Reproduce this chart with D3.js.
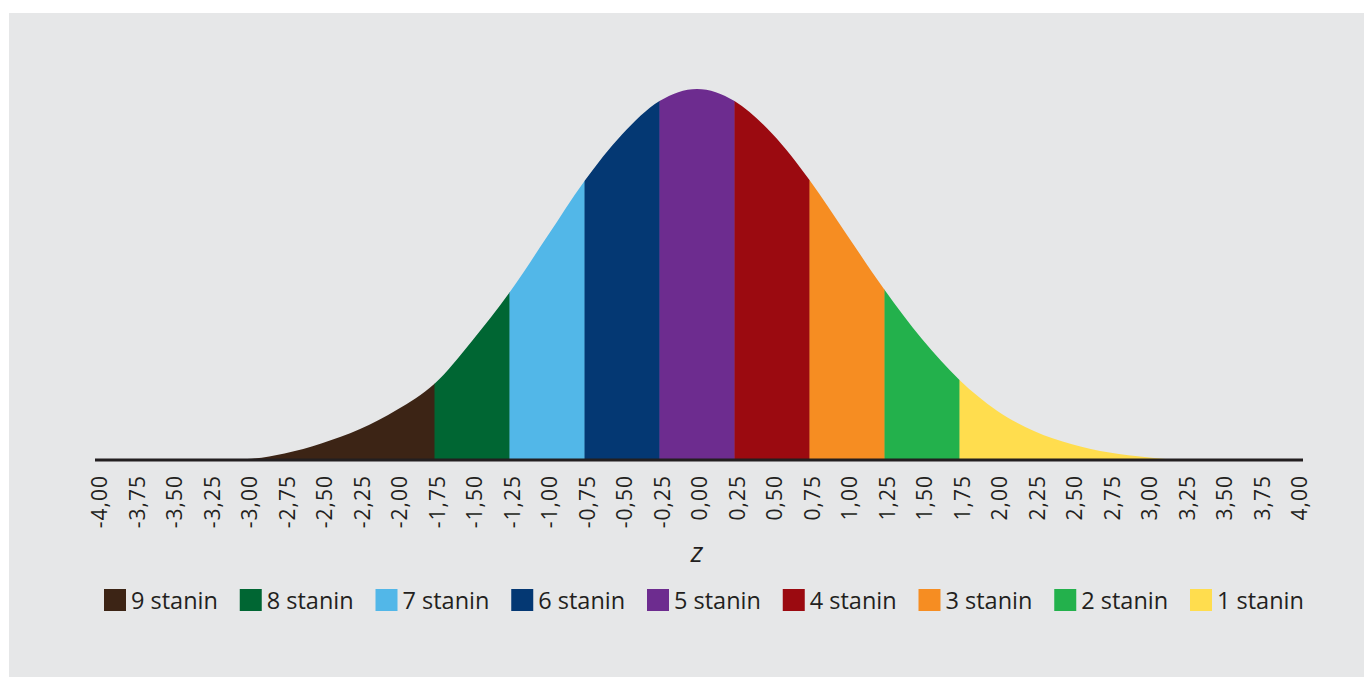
<!DOCTYPE html>
<html>
<head>
<meta charset="utf-8">
<script src="https://cdn.jsdelivr.net/npm/d3@7/dist/d3.min.js"></script>
<style>
  html, body { margin: 0; padding: 0; background: #ffffff; }
  svg { display: block; }
  text { font-family: "Open Sans", "Noto Sans", sans-serif; fill: #231f20; }
</style>
</head>
<body>
<svg id="chart" width="1364" height="677"></svg>
<script>
// ---- data ----
const zValues = [-4.00,-3.75,-3.50,-3.25,-3.00,-2.75,-2.50,-2.25,-2.00,-1.75,-1.50,-1.25,-1.00,-0.75,-0.50,-0.25,
                 0.00,0.25,0.50,0.75,1.00,1.25,1.50,1.75,2.00,2.25,2.50,2.75,3.00,3.25,3.50,3.75,4.00];
const density = [0,0,0,0,0.001,0.007,0.018,0.033,0.054,0.082,0.128,0.180,0.240,0.300,0.350,0.386,
                 0.399,0.386,0.351,0.301,0.242,0.183,0.130,0.086,0.053,0.031,0.017,0.008,0.003,0,0,0,0];
const tickLabels = ["-4,00","-3,75","-3,50","-3,25","-3,00","-2,75","-2,50","-2,25","-2,00","-1,75","-1,50","-1,25","-1,00","-0,75","-0,50","-0,25",
                    "0,00","0,25","0,50","0,75","1,00","1,25","1,50","1,75","2,00","2,25","2,50","2,75","3,00","3,25","3,50","3,75","4,00"];
const stanins = ["9 stanin","8 stanin","7 stanin","6 stanin","5 stanin","4 stanin","3 stanin","2 stanin","1 stanin"];
const staninBounds = [-4,-1.75,-1.25,-0.75,-0.25,0.25,0.75,1.25,1.75,4];
const staninColors = ["#3c2415","#006633","#52b7e8","#043873","#6d2c8f","#9b0a10","#f68d22","#23b14c","#ffdd4e"];
const axisTitle = "z";

// ---- layout ----
const svg = d3.select("#chart");
svg.append("rect").attr("x", 9).attr("y", 13).attr("width", 1364 - 9).attr("height", 677 - 13).attr("fill", "#e6e7e8");

const x = d3.scaleLinear().domain([-4, 4]).range([97, 1297]);
const y = d3.scaleLinear().domain([0, 0.4]).range([460, 88]);

const pts = zValues.map((z, i) => ({z, d: density[i]}));
const area = d3.area().x(p => x(p.z)).y0(y(0)).y1(p => y(p.d)).curve(d3.curveMonotoneX);

const defs = svg.append("defs");
stanins.forEach((s, i) => {
  const x0 = x(staninBounds[i]), x1 = x(staninBounds[i + 1]);
  defs.append("clipPath").attr("id", "clip" + i)
    .append("rect").attr("x", i === 0 ? x0 - 5 : x0).attr("y", 0)
    .attr("width", (x1 - x0) + (i === 0 || i === stanins.length - 1 ? 5 : 0) + 0.4).attr("height", 677);
  svg.append("path").datum(pts)
    .attr("d", area)
    .attr("fill", staninColors[i])
    .attr("clip-path", "url(#clip" + i + ")");
});

// axis line
svg.append("line")
  .attr("x1", x(-4) - 2).attr("x2", x(4) + 6)
  .attr("y1", y(0)).attr("y2", y(0))
  .attr("stroke", "#231f20").attr("stroke-width", 3);

// tick labels (rotated)
svg.append("g").selectAll("text").data(zValues).join("text")
  .attr("transform", (z) => `translate(${x(z) + 3},${y(0) + 15}) rotate(-90)`)
  .attr("text-anchor", "end")
  .attr("dy", "0.35em")
  .style("font-size", "21px")
  .style("letter-spacing", "1px")
  .text((z, i) => tickLabels[i]);

// axis title
svg.append("text")
  .attr("x", x(0)).attr("y", 562)
  .attr("text-anchor", "middle")
  .style("font-size", "28px")
  .style("font-style", "italic")
  .text(axisTitle);

// legend
const legendStep = 135.75;
const lg = svg.append("g").attr("transform", "translate(104,589)");
const items = lg.selectAll("g").data(stanins).join("g")
  .attr("transform", (d, i) => `translate(${i * legendStep},0)`);
items.append("rect").attr("width", 22).attr("height", 22).attr("fill", (d, i) => staninColors[i]);
items.append("text").attr("x", 27).attr("y", 20)
  .style("font-size", "23.5px")
  .text(d => d);
</script>
</body>
</html>
